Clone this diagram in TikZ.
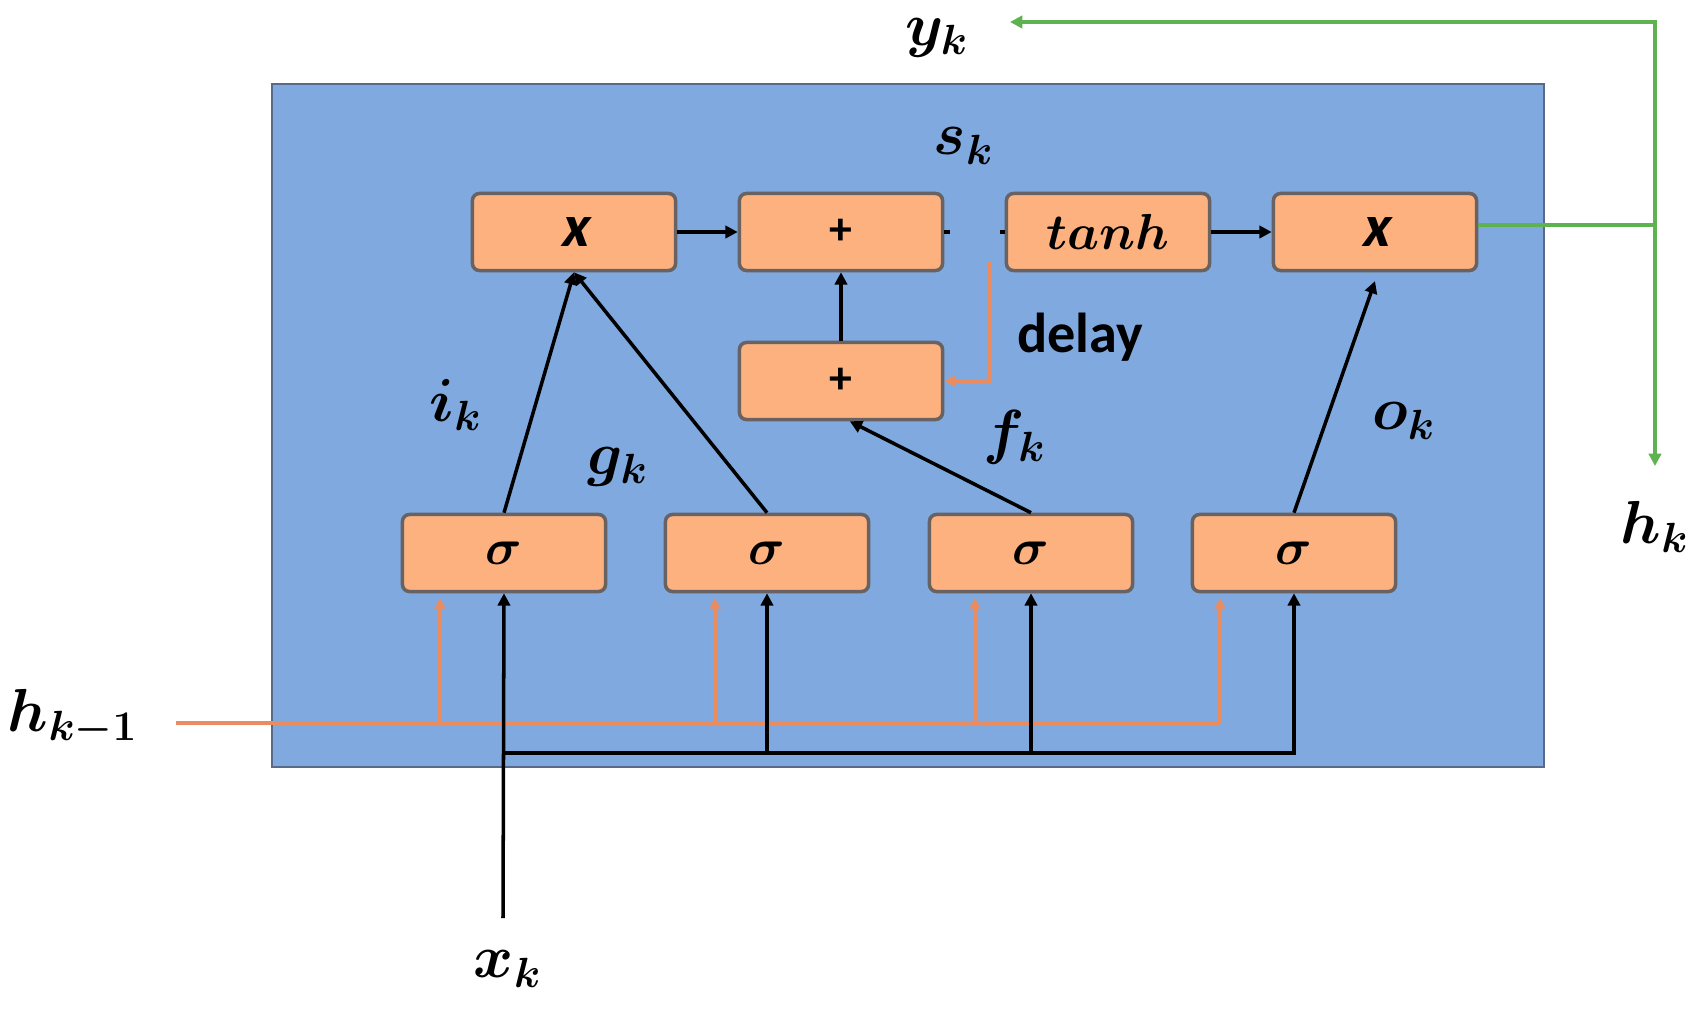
\documentclass[tikz,border=0pt]{standalone}
\usepackage{fontspec}
\usepackage{bm}
\newfontfamily\gatefont{Carlito}
\newfontfamily\gateslant{Carlito}[FakeSlant=0.18]
\usetikzlibrary{arrows.meta}
\definecolor{cellblue}{RGB}{128,170,223}
\definecolor{celledge}{RGB}{88,106,136}
\definecolor{gatefill}{RGB}{253,177,127}
\definecolor{gateedge}{RGB}{105,98,98}
\definecolor{hline}{RGB}{234,140,95}
\definecolor{outgreen}{RGB}{95,178,80}
\tikzset{
	gate/.style={draw=gateedge, line width=1pt, fill=gatefill, rounded corners=2pt, minimum width=2.03cm, minimum height=0.77cm, inner sep=0pt},
	lab/.style={font=\fontsize{17}{20}\selectfont},
	flow/.style={line width=1pt, -{Triangle[length=3.5pt,width=3.5pt]}},
	hflow/.style={hline, line width=0.9pt, -{Triangle[length=3pt,width=3pt]}},
	gflow/.style={outgreen, line width=0.9pt, -{Triangle[length=3.5pt,width=3.5pt]}}
}
\begin{document}
\begin{tikzpicture}[x=0.01cm,y=-0.01cm]
	\useasboundingbox (0,0) rectangle (1693,1012);
	\fill[cellblue, draw=celledge, line width=0.8pt] (272,84) rectangle (1544,767);
	\node[gate, font=\gateslant\bfseries\fontsize{17}{20}\selectfont] (x1) at (574,232) {x};
	\node[gate, font=\gatefont\bfseries\fontsize{13}{16}\selectfont] (plus1) at (841,232) {+};
	\node[gate, font=\fontsize{14}{17}\selectfont] (tanh) at (1108,232) {$\bm{tanh}$};
	\node[gate, font=\gateslant\bfseries\fontsize{17}{20}\selectfont] (x2) at (1375,232) {x};
	\node[gate, font=\gatefont\bfseries\fontsize{13}{16}\selectfont] (plus2) at (841,381) {+};
	\foreach \n/\x in {s1/504, s2/767, s3/1031, s4/1294}
		\node[gate, font=\fontsize{15}{18}\selectfont] (\n) at (\x,553) {$\bm{\sigma}$};
	\node[lab] (yk) at (937,38) {$\bm{y_k}$};
	\node[lab] (sk) at (964,146) {$\bm{s_k}$};
	\node[font=\gatefont\bfseries\fontsize{16}{19}\selectfont] (delay) at (1080,337) {delay};
	\node[lab] (ik) at (456,405) {$\bm{i_k}$};
	\node[lab] (gk) at (618,467) {$\bm{g_k}$};
	\node[lab] (fk) at (1015,437) {$\bm{f_k}$};
	\node[lab] (ok) at (1404,421) {$\bm{o_k}$};
	\node[lab] (hk) at (1655,527) {$\bm{h_k}$};
	\node[lab] (hprev) at (73,718) {$\bm{h_{k-1}}$};
	\node[lab] (xk) at (508,969) {$\bm{x_k}$};
	\draw[flow] (x1) -- (plus1);
	\draw[line width=1pt] (plus1.east) -- ++(6,0)
	(tanh.west) -- ++(-5,0);
	\draw[flow] (tanh) -- (x2);
	\draw[flow] (plus2) -- (plus1);
	\draw[flow] (s1.north) -- (x1.south);
	\draw[flow] (s2.north) -- (x1.south);
	\draw[flow] (s3.north) -- ([xshift=2.5pt]plus2.south);
	\draw[flow] (s4.north) -- ([yshift=-2.5pt]x2.south);
	\coordinate (dtop) at (989,262);
	\draw[hflow] (dtop) |- (plus2.east);
	\coordinate (hin) at (176,723);
	\draw[hline, line width=0.9pt] (hin) -- (1220,723);
	\foreach \n/\x in {s1/440, s2/715, s3/975, s4/1220}
		\draw[hflow] (\x,723) -- (\x,598);
	\coordinate (xin) at (503,918);
	\draw[flow] (xin) -- (s1.south);
	\draw[line width=1pt] (503,753) -- (1296,753);
	\foreach \n in {s2, s3, s4}
		\draw[flow] (\n.south|-{(0,753)}) -- (\n.south);
	\coordinate (gj) at (1655,225);
	\coordinate (gt) at (1655,22);
	\coordinate (yend) at (1010,22);
	\coordinate (hend) at (1655,466);
	\draw[outgreen, line width=0.9pt] (x2.east|-gj) -- (gj);
	\draw[gflow] (gj) -- (gt) -- (yend);
	\draw[gflow] (gj) -- (hend);
\end{tikzpicture}
\end{document}
